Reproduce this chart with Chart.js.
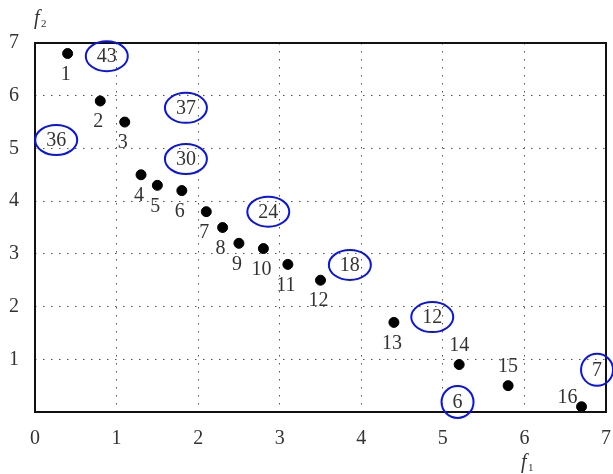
<!doctype html>
<html lang="en">
  <head>
    <meta charset="UTF-8" />
    <title>f1 f2 scatter</title>
    <script src="https://cdn.jsdelivr.net/npm/chart.js"></script>
    <style>
      html, body { margin: 0; padding: 0; background: white; }
    </style>
  </head>
  <body>
    <canvas id="chart" width="613" height="474"></canvas>
    <script>
      // solutions (f1, f2) and their index labels
      const pointIds = ["1","2","3","4","5","6","7","8","9","10","11","12","13","14","15","16"];
      const f1Values = [0.4, 0.8, 1.1, 1.3, 1.5, 1.8, 2.1, 2.3, 2.5, 2.8, 3.1, 3.5, 4.4, 5.2, 5.8, 6.7];
      const f2Values = [6.8, 5.9, 5.5, 4.5, 4.3, 4.2, 3.8, 3.5, 3.2, 3.1, 2.8, 2.5, 1.7, 0.9, 0.5, 0.1];
      // where each index label sits relative to its point
      const labelSide = ["below","below","below","below","below","below","below","below","below","below","below","below","below","above","above","left"];

      // circled numbers
      const circleNums = ["43", "37", "36", "30", "24", "18", "12", "6", "7"];
      const circleF1 = [0.88, 1.85, 0.26, 1.85, 2.86, 3.86, 4.87, 5.18, 6.89];
      const circleF2 = [6.75, 5.77, 5.16, 4.8, 3.8, 2.79, 1.8, 0.19, 0.8];

      const axisTicks = [0, 1, 2, 3, 4, 5, 6, 7];

      const serif = "'Liberation Serif', 'Times New Roman', serif";
      const textColor = "#333";

      const overlay = {
        id: "overlay",
        afterDatasetsDraw(chart) {
          const ctx = chart.ctx;
          const xs = chart.scales.x;
          const ys = chart.scales.y;
          const a = chart.chartArea;
          ctx.save();

          // frame
          ctx.strokeStyle = "#111";
          ctx.lineWidth = 2;
          ctx.strokeRect(a.left, a.top, a.right - a.left, a.bottom - a.top);

          // index labels
          ctx.font = "20px " + serif;
          ctx.fillStyle = textColor;
          ctx.textAlign = "center";
          ctx.textBaseline = "middle";
          pointIds.forEach((id, i) => {
            const px = xs.getPixelForValue(f1Values[i]);
            const py = ys.getPixelForValue(f2Values[i]);
            let dx = -2, dy = 21;
            if (labelSide[i] === "above") { dx = 0; dy = -19; }
            if (labelSide[i] === "left") { dx = -14; dy = -9; }
            ctx.fillText(id, px + dx, py + dy);
          });

          // circled numbers
          circleNums.forEach((t, i) => {
            const cx = xs.getPixelForValue(circleF1[i]);
            const cy = ys.getPixelForValue(circleF2[i]);
            const rx = t.length > 1 ? 21 : 16;
            const ry = t.length > 1 ? 15 : 16;
            ctx.beginPath();
            ctx.ellipse(cx, cy, rx, ry, 0, 0, Math.PI * 2);
            ctx.strokeStyle = "#0a14e6";
            ctx.lineWidth = 2;
            ctx.stroke();
            ctx.fillStyle = textColor;
            ctx.fillText(t, cx, cy + 1);
          });

          // axis titles
          ctx.textAlign = "left";
          ctx.font = "italic 20px " + serif;
          ctx.fillText("f", 34, 19);
          ctx.fillText("f", 521, 463);
          ctx.font = "11px " + serif;
          ctx.fillText("2", 41, 24);
          ctx.fillText("1", 528, 468);
          ctx.restore();
        },
      };

      new Chart(document.getElementById("chart"), {
        type: "scatter",
        data: {
          datasets: [
            {
              data: f1Values.map((x, i) => ({ x: x, y: f2Values[i] })),
              backgroundColor: "#000",
              borderColor: "#000",
              pointRadius: 5,
              pointHoverRadius: 5,
            },
          ],
        },
        options: {
          responsive: false,
          animation: false,
          events: [],
          layout: { padding: { top: 43, right: 7, left: 0, bottom: 0 } },
          plugins: { legend: { display: false }, tooltip: { enabled: false } },
          scales: {
            x: {
              type: "linear",
              min: 0,
              max: 7,
              afterBuildTicks: (s) => { s.ticks = axisTicks.map((v) => ({ value: v })); },
              afterFit: (s) => { s.height = 62; s.paddingLeft = 0; s.paddingRight = 0; },
              grid: { color: "#555", lineWidth: 1, drawTicks: false },
              border: { display: false, dash: [1.5, 6.5] },
              ticks: { color: textColor, font: { family: serif, size: 20 }, padding: 15 },
            },
            y: {
              type: "linear",
              min: 0,
              max: 7,
              afterBuildTicks: (s) => { s.ticks = axisTicks.map((v) => ({ value: v })); },
              afterFit: (s) => { s.width = 35; s.paddingTop = 0; s.paddingBottom = 0; },
              grid: { color: "#555", lineWidth: 1, drawTicks: false },
              border: { display: false, dash: [1.5, 6.5] },
              ticks: {
                color: textColor,
                font: { family: serif, size: 20 },
                padding: 16,
                callback: (v) => (v === 0 ? "" : String(v)),
              },
            },
          },
        },
        plugins: [overlay],
      });
    </script>
  </body>
</html>
